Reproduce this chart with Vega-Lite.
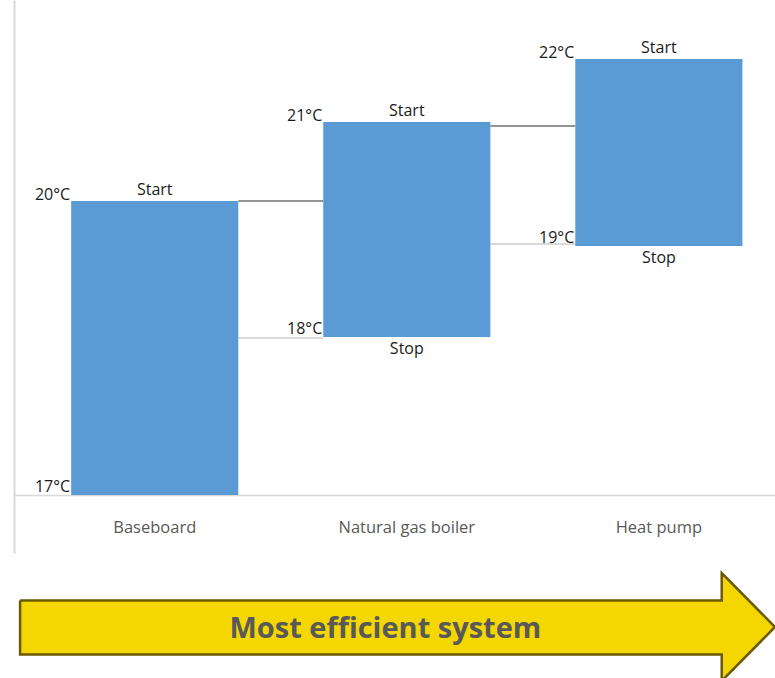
{
  "$schema": "https://vega.github.io/schema/vega-lite/v6.json",
  "background": "white",
  "padding": {"left": 14, "top": 0, "right": 0, "bottom": 0},
  "spacing": 15,
  "config": {
    "view": {"stroke": null},
    "font": "Open Sans",
    "axisY": {"domain": true, "domainColor": "#D9D9D9", "domainWidth": 2, "labels": false, "ticks": false, "grid": false},
    "axisX": {"domainColor": "#D9D9D9", "domainWidth": 1.5, "ticks": false, "grid": false, "labelColor": "#595959", "labelFontSize": 16.5, "labelFont": "Open Sans", "labelAngle": 0, "labelPadding": 24}
  },
  "datasets": {
    "bars": [
      {"system": "Baseboard", "stop": 0, "start": 2.94, "startTemp": "20°C", "stopTemp": "17°C", "startText": "Start", "stopText": ""},
      {"system": "Natural gas boiler", "stop": 1.58, "start": 3.73, "startTemp": "21°C", "stopTemp": "18°C", "startText": "Start", "stopText": "Stop"},
      {"system": "Heat pump", "stop": 2.49, "start": 4.36, "startTemp": "22°C", "stopTemp": "19°C", "startText": "Start", "stopText": "Stop"}
    ],
    "connectors": [
      {"from": "Baseboard", "to": "Natural gas boiler", "level": 2.94, "kind": "start"},
      {"from": "Baseboard", "to": "Natural gas boiler", "level": 1.57, "kind": "stop"},
      {"from": "Natural gas boiler", "to": "Heat pump", "level": 3.69, "kind": "start"},
      {"from": "Natural gas boiler", "to": "Heat pump", "level": 2.51, "kind": "stop"}
    ],
    "arrow": [
      {"i": 0, "ax": 0.8, "ay": 74},
      {"i": 1, "ax": 93, "ay": 74},
      {"i": 2, "ax": 93, "ay": 99},
      {"i": 3, "ax": 100, "ay": 50},
      {"i": 4, "ax": 93, "ay": 1},
      {"i": 5, "ax": 93, "ay": 25},
      {"i": 6, "ax": 0.8, "ay": 25},
      {"i": 7, "ax": 0.8, "ay": 74}
    ],
    "caption": [
      {"tx": 48.8, "ty": 48, "label": "Most efficient system"}
    ]
  },
  "vconcat": [
    {
      "width": 761,
      "height": 553,
      "layer": [
        {
          "data": {"name": "connectors"},
          "mark": {"type": "rule"},
          "encoding": {
            "x": {"field": "from", "type": "nominal", "bandPosition": 1,
                  "scale": {"domain": ["Baseboard", "Natural gas boiler", "Heat pump"], "paddingInner": 0.337, "paddingOuter": 0.178, "align": 0.637},
                  "axis": {"title": null, "offset": -58}},
            "x2": {"field": "to", "bandPosition": 0},
            "y": {"field": "level", "type": "quantitative", "scale": {"domain": [-0.58, 4.95], "nice": false, "zero": false}, "title": null},
            "color": {"field": "kind", "type": "nominal", "scale": {"domain": ["start", "stop"], "range": ["#2B2B2B", "#D9D9D9"]}, "legend": null},
            "strokeWidth": {"field": "kind", "type": "nominal", "scale": {"domain": ["start", "stop"], "range": [1.2, 2]}, "legend": null}
          }
        },
        {
          "data": {"name": "bars"},
          "mark": {"type": "bar", "color": "#5B9BD5"},
          "encoding": {
            "x": {"field": "system", "type": "nominal"},
            "y": {"field": "stop", "type": "quantitative", "scale": {"domain": [-0.58, 4.95], "nice": false, "zero": false}, "title": null},
            "y2": {"field": "start"}
          }
        },
        {
          "data": {"name": "bars"},
          "mark": {"type": "text", "baseline": "alphabetic", "align": "center", "dy": -6, "fontSize": 16, "color": "#1A1A1A"},
          "encoding": {
            "x": {"field": "system", "type": "nominal"},
            "y": {"field": "start", "type": "quantitative", "title": null},
            "text": {"field": "startText"}
          }
        },
        {
          "data": {"name": "bars"},
          "mark": {"type": "text", "baseline": "top", "align": "center", "dy": 4, "fontSize": 16, "color": "#1A1A1A"},
          "encoding": {
            "x": {"field": "system", "type": "nominal"},
            "y": {"field": "stop", "type": "quantitative", "title": null},
            "text": {"field": "stopText"}
          }
        },
        {
          "data": {"name": "bars"},
          "mark": {"type": "text", "baseline": "alphabetic", "align": "right", "dy": -1, "dx": -1, "fontSize": 16, "color": "#1A1A1A"},
          "encoding": {
            "x": {"field": "system", "type": "nominal", "bandPosition": 0},
            "y": {"field": "start", "type": "quantitative", "title": null},
            "text": {"field": "startTemp"}
          }
        },
        {
          "data": {"name": "bars"},
          "mark": {"type": "text", "baseline": "alphabetic", "align": "right", "dy": -3, "dx": -1, "fontSize": 16, "color": "#1A1A1A"},
          "encoding": {
            "x": {"field": "system", "type": "nominal", "bandPosition": 0},
            "y": {"field": "stop", "type": "quantitative", "title": null},
            "text": {"field": "stopTemp"}
          }
        }
      ]
    },
    {
      "width": 761,
      "height": 110,
      "layer": [
        {
          "data": {"name": "arrow"},
          "mark": {"type": "line", "fill": "#F4D700", "stroke": "#6B5A00", "strokeWidth": 2.5, "strokeJoin": "miter", "clip": false},
          "encoding": {
            "x": {"field": "ax", "type": "quantitative", "scale": {"domain": [0, 100], "nice": false}, "axis": null},
            "y": {"field": "ay", "type": "quantitative", "scale": {"domain": [0, 100], "nice": false}, "axis": null},
            "order": {"field": "i", "type": "quantitative"}
          }
        },
        {
          "data": {"name": "caption"},
          "mark": {"type": "text", "font": "Open Sans", "fontWeight": "bold", "fontSize": 29, "color": "#595959", "baseline": "middle", "align": "center"},
          "encoding": {
            "x": {"field": "tx", "type": "quantitative", "axis": null},
            "y": {"field": "ty", "type": "quantitative", "axis": null},
            "text": {"field": "label"}
          }
        }
      ]
    }
  ]
}
